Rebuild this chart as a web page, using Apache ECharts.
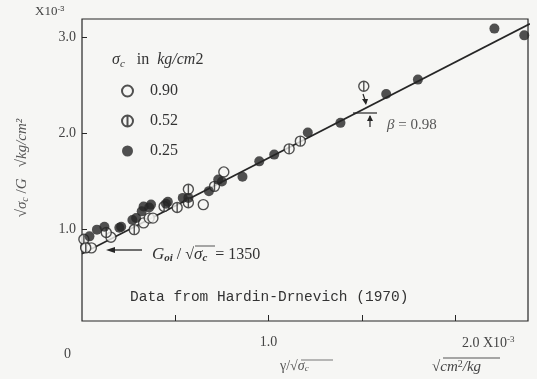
<!DOCTYPE html>
<html>
<head>
<meta charset="utf-8">
<script src="https://cdn.jsdelivr.net/npm/echarts@6/dist/echarts.min.js"></script>
<style>
  html, body { margin: 0; padding: 0; background: #f6f6f4; }
  #chart { width: 537px; height: 379px; }
</style>
</head>
<body>
<div id="chart"></div>
<script>
// gamma/sqrt(sigma_c) (x 1e-3) vs sqrt(sigma_c)/G (x 1e-3), Hardin-Drnevich 1970
var openX = [0.02, 0.05, 0.155, 0.33, 0.36, 0.38, 0.65, 0.76];
var openY = [0.82, 0.81, 0.92, 1.07, 1.12, 1.12, 1.26, 1.60];

var halfX = [0.01, 0.02, 0.13, 0.28, 0.44, 0.51, 0.57, 0.57, 0.71, 1.11, 1.17, 1.51];
var halfY = [0.90, 0.81, 0.97, 1.00, 1.24, 1.23, 1.42, 1.28, 1.45, 1.84, 1.92, 2.49];

var fillX = [0.04, 0.08, 0.12, 0.20, 0.21, 0.27, 0.29, 0.32, 0.33, 0.36, 0.37, 0.45, 0.46,
             0.54, 0.57, 0.68, 0.73, 0.75, 0.86, 0.95, 1.03, 1.21, 1.385, 1.63, 1.80, 2.21, 2.37];
var fillY = [0.93, 1.00, 1.03, 1.02, 1.03, 1.10, 1.12, 1.19, 1.24, 1.23, 1.26, 1.27, 1.29,
             1.33, 1.33, 1.40, 1.52, 1.50, 1.55, 1.71, 1.78, 2.01, 2.11, 2.41, 2.56, 3.09, 3.02];

// fitted line, G_oi/sqrt(sigma_c) = 1350
var lineX = [0, 2.4];
var lineY = [0.75, 3.14];

var seriesNames = ['0.90', '0.52', '0.25'];
var xTicks = [0.5, 1.0, 1.5, 2.0];
var xLabels = [1.0, 2.0];
var yTicks = [1.0, 2.0, 3.0];

function pairs(xs, ys) {
  return xs.map(function (x, i) { return [x, ys[i]]; });
}

var ink = '#262626';
var txt = '#444';
var serif = '"Liberation Serif", "DejaVu Serif", serif';
var phi = 'path://M10 0A10 10 0 1 1 10 20A10 10 0 1 1 10 0ZM10 0L10 20';

var myChart = echarts.init(document.getElementById('chart'));
var option = {
  backgroundColor: '#f6f6f4',
  animation: false,
  grid: { left: 82, right: 9, top: 19, bottom: 58, show: true, borderColor: ink, borderWidth: 1.2 },
  xAxis: {
    type: 'value', min: 0, max: 2.39,
    splitLine: { show: false },
    axisLine: { show: false },
    axisTick: { inside: true, length: 6, customValues: xTicks, lineStyle: { color: ink } },
    axisLabel: {
      customValues: xLabels, margin: 14, color: txt, fontFamily: serif, fontSize: 14,
      formatter: function (v) {
        return v === 2 ? '{s|}2.0 X10{sup|-3}' : v.toFixed(1);
      },
      rich: {
        s: { width: 66 },
        sup: { fontSize: 9, verticalAlign: 'top', padding: [0, 0, 8, 0], color: txt, fontFamily: serif }
      }
    }
  },
  yAxis: {
    type: 'value', min: 0.05, max: 3.19,
    splitLine: { show: false },
    axisLine: { show: false },
    axisTick: { inside: true, length: 5, customValues: yTicks, lineStyle: { color: ink } },
    axisLabel: {
      customValues: yTicks, margin: 6, color: txt, fontFamily: serif, fontSize: 14,
      formatter: function (v) { return v.toFixed(1); }
    }
  },
  legend: {
    orient: 'vertical', left: 116, top: 78, itemGap: 14,
    itemWidth: 11, itemHeight: 11,
    data: seriesNames,
    textStyle: { color: '#333', fontFamily: serif, fontSize: 16, padding: [0, 0, 0, 12] }
  },
  series: [
    {
      type: 'line', data: pairs(lineX, lineY), symbol: 'none', silent: true,
      lineStyle: { color: ink, width: 1.6 }, z: 1
    },
    {
      name: seriesNames[0], type: 'scatter', data: pairs(openX, openY),
      symbol: 'circle', symbolSize: 10,
      itemStyle: { color: '#f6f6f4', borderColor: ink, borderWidth: 1.4 }, z: 3
    },
    {
      name: seriesNames[1], type: 'scatter', data: pairs(halfX, halfY),
      symbol: phi, symbolSize: 10,
      itemStyle: { color: '#f6f6f4', borderColor: ink, borderWidth: 1.4 }, z: 3
    },
    {
      name: seriesNames[2], type: 'scatter', data: pairs(fillX, fillY),
      symbol: 'circle', symbolSize: 10,
      itemStyle: { color: ink }, z: 4
    }
  ],
  graphic: [
    // axis scale markers
    { type: 'text', left: 35, top: 5, style: { text: 'X10{sup|-3}', rich: { sup: { fontSize: 8, verticalAlign: 'top', padding: [0, 0, 6, 0], fill: txt } }, fill: txt, font: '13px ' + serif } },
    { type: 'text', left: 64, top: 347, style: { text: '0', fill: txt, font: '14px ' + serif } },
    // y axis title
    {
      type: 'text', x: 22, y: 168, rotation: Math.PI / 2,
      style: {
        text: '√{i|σ}{sub|c} /{i|G}   √{i|kg/cm²}',
        fill: '#555', font: '15px ' + serif, align: 'center', verticalAlign: 'middle',
        rich: {
          i: { fontStyle: 'italic', fontSize: 15, fontFamily: serif, fill: '#555' },
          sub: { fontSize: 10, fontStyle: 'italic', fontFamily: serif, fill: '#555', verticalAlign: 'bottom', padding: [6, 0, 0, 0] }
        }
      }
    },
    // x axis titles
    {
      type: 'text', left: 280, top: 359,
      style: {
        text: 'γ/√{i|σ}{sub|c}', fill: '#555', font: '14px ' + serif,
        rich: {
          i: { fontStyle: 'italic', fontSize: 14, fontFamily: serif, fill: '#555' },
          sub: { fontSize: 9, fontStyle: 'italic', fontFamily: serif, fill: '#555', verticalAlign: 'bottom', padding: [6, 0, 0, 0] }
        }
      }
    },
    { type: 'line', shape: { x1: 301, y1: 360, x2: 333, y2: 360 }, style: { stroke: '#777', lineWidth: 1 } },
    {
      type: 'text', left: 432, top: 359,
      style: {
        text: '√{i|cm}{sup|2}{i|/kg}', fill: '#444', font: '15px ' + serif,
        rich: {
          i: { fontStyle: 'italic', fontSize: 15, fontFamily: serif, fill: '#444' },
          sup: { fontSize: 10, fontFamily: serif, fill: '#444', verticalAlign: 'top', padding: [0, 0, 6, 0] }
        }
      }
    },
    { type: 'line', shape: { x1: 443, y1: 358, x2: 500, y2: 358 }, style: { stroke: '#555', lineWidth: 1 } },
    // legend title
    {
      type: 'text', left: 112, top: 52,
      style: {
        text: '{i|σ}{sub|c}   in  {i|kg/cm}2', fill: '#333', font: '16px ' + serif,
        rich: {
          i: { fontStyle: 'italic', fontSize: 16, fontFamily: serif, fill: '#333' },
          sub: { fontSize: 11, fontStyle: 'italic', fontFamily: serif, fill: '#333', verticalAlign: 'bottom', padding: [8, 0, 0, 0] }
        }
      }
    },
    // G_oi annotation
    {
      type: 'text', left: 152, top: 246,
      style: {
        text: '{i|G}{sub|oi} / √{i|σ}{sub|c}  = 1350', fill: '#333', font: '16px ' + serif,
        rich: {
          i: { fontStyle: 'italic', fontSize: 17, fontFamily: serif, fill: '#333' },
          sub: { fontSize: 11, fontStyle: 'italic', fontWeight: 'bold', fontFamily: serif, fill: '#333', verticalAlign: 'bottom', padding: [8, 0, 0, 0] }
        }
      }
    },
    { type: 'line', shape: { x1: 195, y1: 246, x2: 215, y2: 246 }, style: { stroke: '#555', lineWidth: 1 } },
    { type: 'line', shape: { x1: 112, y1: 250, x2: 142, y2: 250 }, style: { stroke: ink, lineWidth: 1.3 } },
    { type: 'polygon', shape: { points: [[106, 250], [115, 247], [115, 253]] }, style: { fill: ink } },
    // beta annotation
    { type: 'line', shape: { x1: 363, y1: 94, x2: 366, y2: 103 }, style: { stroke: ink, lineWidth: 1.2 } },
    { type: 'polygon', shape: { points: [[366, 105], [362, 99], [368, 99]] }, style: { fill: ink } },
    { type: 'line', shape: { x1: 353, y1: 113, x2: 377, y2: 113 }, style: { stroke: ink, lineWidth: 1.2 } },
    { type: 'line', shape: { x1: 370, y1: 116, x2: 370, y2: 127 }, style: { stroke: ink, lineWidth: 1.2 } },
    { type: 'polygon', shape: { points: [[370, 115], [367, 121], [373, 121]] }, style: { fill: ink } },
    { type: 'text', left: 387, top: 118, style: { text: '{i|β} = 0.98', fill: '#555', font: '15px ' + serif, rich: { i: { fontStyle: 'italic', fontSize: 15, fontFamily: serif, fill: '#555' } } } },
    // source note
    { type: 'text', left: 130, top: 290, style: { text: 'Data from Hardin-Drnevich (1970)', fill: '#333', font: '14.5px "Liberation Mono", "DejaVu Sans Mono", monospace' } }
  ]
};
myChart.setOption(option);
</script>
</body>
</html>
